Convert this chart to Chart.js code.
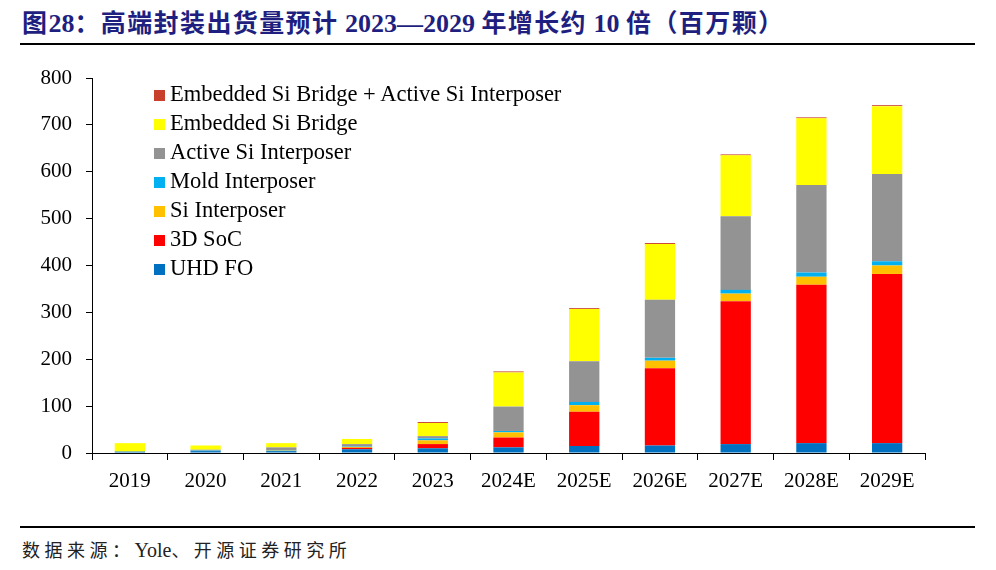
<!DOCTYPE html>
<html>
<head>
<meta charset="utf-8">
<script src="https://cdn.jsdelivr.net/npm/chart.js@4.4.1/dist/chart.umd.min.js"></script>
<style>
    html, body { margin: 0; padding: 0; background: #fff; }
    body { width: 996px; height: 570px; position: relative; overflow: hidden; }
    #title {
        position: absolute; left: 22px; top: 3px;
        font-family: "Liberation Serif", "Noto Sans CJK SC", serif;
        font-weight: bold; font-size: 26px; color: #1f1f80; white-space: nowrap;
    }
    #title .cn { font-family: "Noto Sans CJK SC", sans-serif; font-size: 25px; letter-spacing: 1.4px; }
    .rule { position: absolute; left: 20px; width: 955px; height: 2px; background: #000; }
    #source {
        position: absolute; left: 22px; top: 536px;
        font-family: "Noto Sans CJK SC", sans-serif; font-size: 18px; color: #222;
        letter-spacing: 4.5px; white-space: nowrap;
    }
    #source .en { font-family: "Liberation Serif", serif; font-size: 20px; letter-spacing: 0; }
    #wrap { position: absolute; left: 0; top: 50px; width: 996px; height: 475px; }
    #legend {
        position: absolute; left: 154px; top: 79px;
        font-family: "Liberation Serif", serif; font-size: 22.5px; color: #000;
    }
    #legend div { height: 29px; line-height: 29px; white-space: nowrap; }
    #legend span.box { display: inline-block; width: 11px; height: 11px; margin-right: 5px; vertical-align: 0px; }
</style>
</head>
<body>
<div id="title"><span class="cn">图</span>28<span class="cn">：高端封装出货量预计</span> 2023—2029 <span class="cn">年增长约</span> 10 <span class="cn">倍（百万颗）</span></div>
<div class="rule" style="top:43px"></div>
<div id="wrap"><canvas id="chart"></canvas></div>
<div id="legend"></div>
<div class="rule" style="top:526px"></div>
<div id="source">数据来源：<span class="en">Yole</span>、开源证券研究所</div>

<script>
const years = ['2019', '2020', '2021', '2022', '2023', '2024E', '2025E', '2026E', '2027E', '2028E', '2029E'];

// stacked from the bottom up
const uhdFo          = [3, 4, 4, 8, 10, 12, 15, 16, 19, 21, 21];
const soc3d          = [0, 0, 0, 3, 9, 21, 73, 165, 305, 338, 361];
const siInterposer   = [0, 0, 1, 2, 8, 11, 14, 16, 16, 17, 18];
const moldInterposer = [0, 1, 1, 1, 4, 3, 7, 6, 8, 9, 9];
const activeSi       = [0, 2, 6, 5, 5, 52, 87, 124, 157, 187, 186];
const embeddedBridge = [18, 9, 9, 11, 28, 73, 111, 119, 130, 142, 145];
const bridgePlusActive = [0, 0, 0, 0, 2, 2, 2, 2, 2, 2, 2];

const yTicks = [0, 100, 200, 300, 400, 500, 600, 700, 800];

const series = [
    { label: 'UHD FO', data: uhdFo, color: '#0070c0' },
    { label: '3D SoC', data: soc3d, color: '#ff0000' },
    { label: 'Si Interposer', data: siInterposer, color: '#ffc000' },
    { label: 'Mold Interposer', data: moldInterposer, color: '#00b0f0' },
    { label: 'Active Si Interposer', data: activeSi, color: '#939393' },
    { label: 'Embedded Si Bridge', data: embeddedBridge, color: '#ffff00' },
    { label: 'Embedded Si Bridge + Active Si Interposer', data: bridgePlusActive, color: '#c8402c' },
];

const datasets = series.map(s => ({
    label: s.label,
    data: s.data,
    backgroundColor: s.color,
    borderWidth: 0,
    barPercentage: 0.4,
    categoryPercentage: 1.0,
}));

// legend drawn as html, top entry = top of stack
const legendBox = document.getElementById('legend');
series.slice().reverse().forEach(s => {
    const row = document.createElement('div');
    const box = document.createElement('span');
    box.className = 'box';
    box.style.background = s.color;
    row.appendChild(box);
    row.appendChild(document.createTextNode(s.label));
    legendBox.appendChild(row);
});

const tickFont = { family: 'Liberation Serif', size: 21 };

new Chart(document.getElementById('chart'), {
    type: 'bar',
    data: { labels: years, datasets: datasets },
    options: {
        responsive: true,
        maintainAspectRatio: false,
        animation: false,
        layout: { padding: { top: 28, right: 71, left: 0, bottom: 0 } },
        plugins: {
            legend: { display: false },
            tooltip: { enabled: false },
        },
        scales: {
            x: {
                stacked: true,
                grid: { offset: true, drawOnChartArea: false, drawTicks: true, tickLength: 7, color: '#000' },
                border: { display: true, color: '#000', width: 1 },
                ticks: { font: tickFont, color: '#000', padding: 9, maxRotation: 0 },
                afterFit: (scale) => { scale.height = 72; },
            },
            y: {
                stacked: true,
                min: 0,
                max: 800,
                afterBuildTicks: (scale) => { scale.ticks = yTicks.map(v => ({ value: v })); },
                grid: { drawOnChartArea: false, drawTicks: true, tickLength: 6, color: '#000' },
                border: { display: true, color: '#000', width: 1 },
                ticks: { font: tickFont, color: '#000', padding: 14 },
                afterFit: (scale) => { scale.width = 92; },
            },
        },
    },
});
</script>
</body>
</html>
